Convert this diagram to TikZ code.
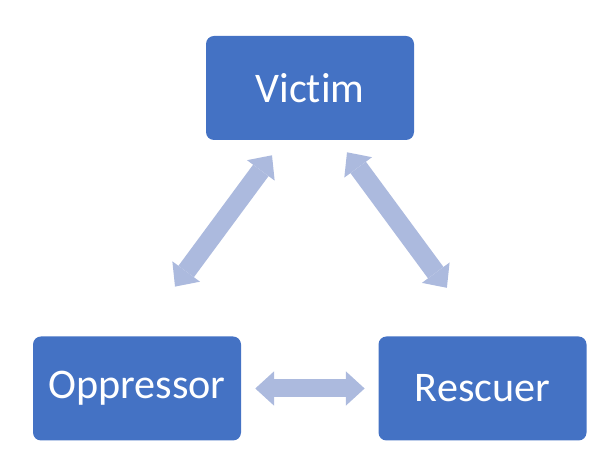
\documentclass[tikz,border=0pt]{standalone}
\usepackage{fontspec}
\setmainfont{Carlito}[Ligatures=NoCommon]
\usetikzlibrary{arrows.meta}
\definecolor{boxblue}{RGB}{68,114,196}
\definecolor{arrowblue}{RGB}{172,186,222}
\tikzset{
  rolebox/.style={fill=boxblue,rounded corners=0.2cm,minimum width=5.2cm,minimum height=2.6cm,
    text=white,font=\fontsize{30}{36}\selectfont},
  dblarrow/.style={draw=arrowblue,line width=0.45cm,
    {Triangle[width=0.86cm,length=0.47cm,line width=0pt]}-{Triangle[width=0.86cm,length=0.47cm,line width=0pt]}}
}
\begin{document}
\begin{tikzpicture}
	\useasboundingbox (0,0) rectangle (15.175,11.75);
	%BOXES
	\node[rolebox] (victim) at (7.75,9.55) {Victim};
	\node[rolebox] (oppressor) at (3.425,2.0375) {Oppressor};
	\node[rolebox] (rescuer) at (12.0625,2.0375) {Rescuer};
	
	%ARROWS
	\draw[dblarrow,line width=0.48cm] ([shift={(0.95,1.24)}]oppressor.north)--([shift={(-0.95,-0.375)}]victim.south);
	\draw[dblarrow,line width=0.48cm] ([shift={(0.925,-0.3)}]victim.south)--([shift={(-0.89,1.21)}]rescuer.north);
	%
	\draw[dblarrow] ([xshift=0.35cm]oppressor.east)--([xshift=-0.34cm]rescuer.west);
\end{tikzpicture}
\end{document}
